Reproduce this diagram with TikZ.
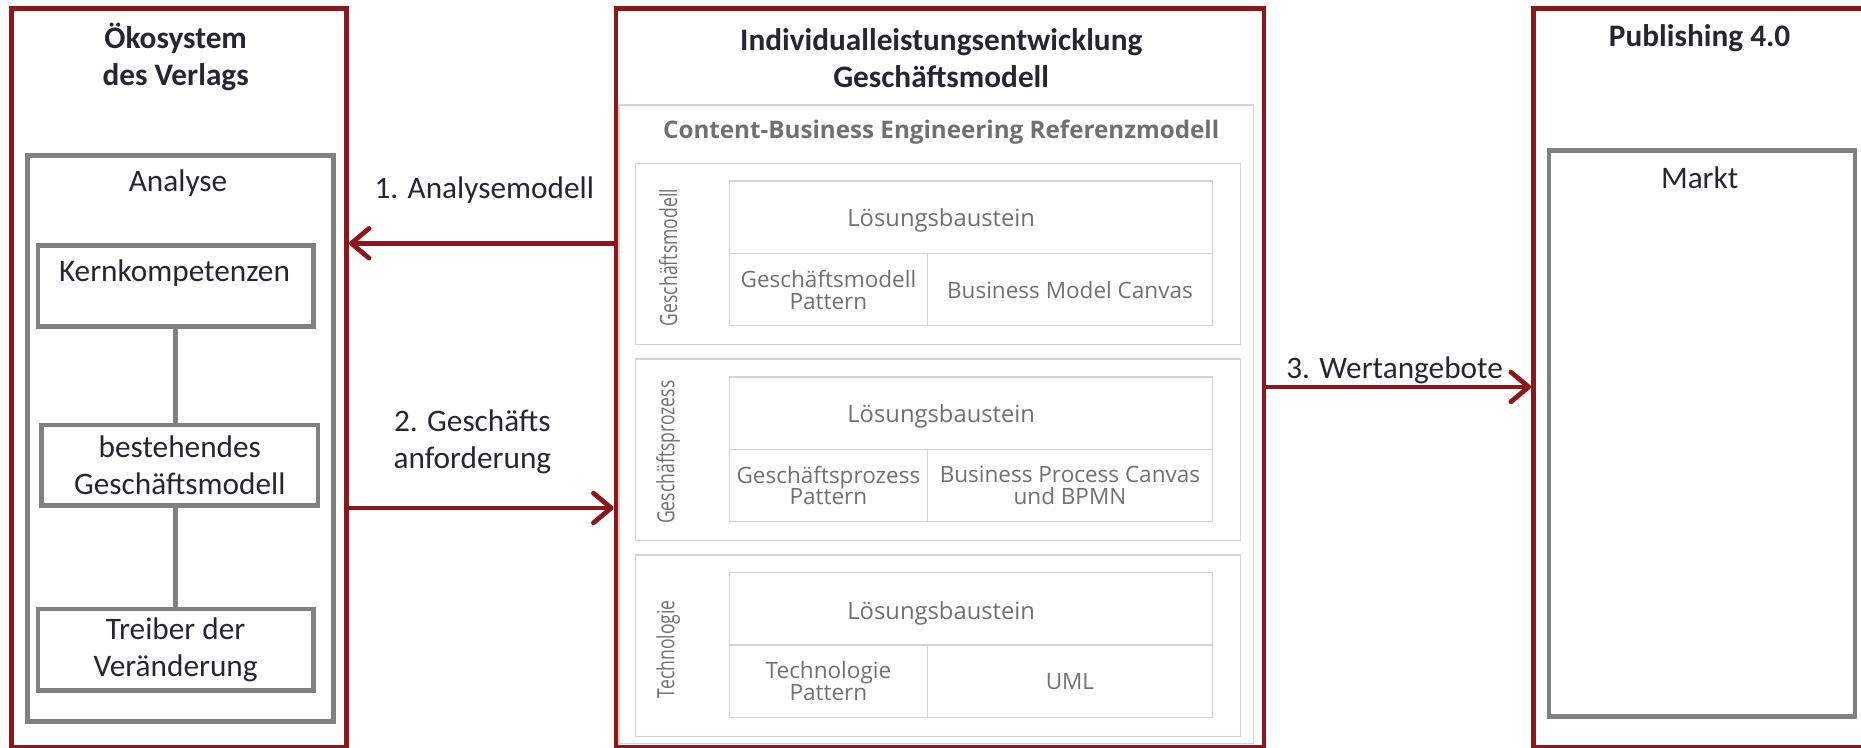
\documentclass[tikz,border=0pt]{standalone}
\usepackage{fontspec}
\setmainfont{Carlito}
\newfontfamily\osfont{Open Sans}
\newfontfamily\oscond[FakeStretch=0.74]{Open Sans}
\usetikzlibrary{arrows.meta}

\definecolor{dunkelrot}{RGB}{139,22,28}
\definecolor{schrift}{RGB}{38,38,48}
\definecolor{grautext}{RGB}{112,112,112}
\definecolor{linie}{RGB}{212,212,212}

\tikzset{
  rahmen/.style={draw=dunkelrot, line width=0.08cm, anchor=north west, minimum height=12.46cm},
  graubox/.style={draw=gray, line width=0.08cm, anchor=north west, align=center,
    text=schrift, font=\fontsize{15}{17.6}\selectfont},
  grauline/.style={draw=gray, line width=0.08cm},
  abschnitt/.style={draw=linie, line width=0.6pt, anchor=north west, minimum width=10.2cm, minimum height=3.06cm},
  zelle/.style={draw=linie, line width=0.6pt, anchor=north west, minimum height=1.22cm, inner sep=0pt,
    align=center, text=grautext, font=\osfont\fontsize{10.8}{10.5}\selectfont},
  baustein/.style={zelle, minimum width=8.14cm},
  bstext/.style={text=grautext, font=\osfont\fontsize{11.4}{12}\selectfont},
  seite/.style={rotate=90, text=grautext, font=\oscond\fontsize{11.4}{12}\selectfont},
  titel/.style={text=schrift, align=center, font=\bfseries\fontsize{15}{17.6}\selectfont},
  etext/.style={text=schrift, align=center, font=\fontsize{15}{17.6}\selectfont},
  pfeil/.style={dunkelrot, line width=0.08cm, -{Straight Barb[length=3mm,width=5mm,round]}},
}

\begin{document}
\begin{tikzpicture}[x=0.02cm, y=-0.02cm]

  \useasboundingbox (0,0) rectangle (1568,630);

  % Oekosystem
  \node[rahmen, minimum width=5.64cm] (oeko) at (8,5) {};
  \node[titel] (oekotitel) at (148,48) {Ökosystem\\des Verlags};
  \node[graubox, minimum width=5.16cm, minimum height=9.54cm] (analyse) at (21,129) {};
  \node[etext] (analysetitel) at (150,154) {Analyse};
  \node[graubox, minimum width=4.64cm, minimum height=1.36cm] (kern) at (30,205) {};
  \node[etext] (kerntext) at (147,230) {Kernkompetenzen};
  \node[graubox, minimum width=4.66cm, minimum height=1.36cm] (bestehend) at (33,356) {bestehendes\\Geschäftsmodell};
  \node[graubox, minimum width=4.64cm, minimum height=1.38cm] (treiber) at (30,511) {Treiber der\\Veränderung};
  \draw[grauline] (kern.south) -- (kern.south |- bestehend.north);
  \draw[grauline] (bestehend.south -| kern.south) -- (treiber.north -| kern.south);

  % Individualleistungsentwicklung
  \node[rahmen, minimum width=10.92cm] (indiv) at (517,5) {};
  \node[titel] (indivtitel) at (793,49) {Individualleistungsentwicklung\\Geschäftsmodell};
  \node[draw=linie, line width=0.6pt, anchor=north west, minimum width=10.7cm, minimum height=10.76cm] (panel) at (521,88) {};
  \node[text=grautext, font=\osfont\bfseries\fontsize{11.6}{12}\selectfont] (cbe) at (793,111) {Content-Business Engineering Referenzmodell};

  \node[abschnitt] (gm) at (535,137) {};
  \node[seite] (gmtext) at (563,217) {Geschäftsmodell};
  \node[baustein] (lb1) at (614,152) {};
  \node[bstext] (lb1text) at (793,186) {Lösungsbaustein};
  \node[zelle, minimum width=3.34cm] (pat1) at (614,213) {Geschäftsmodell\\Pattern};
  \node[zelle, minimum width=4.80cm] (can1) at (781,213) {Business Model Canvas};

  \node[abschnitt] (gp) at (535,302) {};
  \node[seite] (gptext) at (563,381) {Geschäftsprozess};
  \node[baustein] (lb2) at (614,317) {};
  \node[bstext] (lb2text) at (793,351) {Lösungsbaustein};
  \node[zelle, minimum width=3.34cm] (pat2) at (614,378) {Geschäftsprozess\\Pattern};
  \node[zelle, minimum width=4.80cm] (can2) at (781,378) {Business Process Canvas\\und BPMN};

  \node[abschnitt] (tech) at (535,467) {};
  \node[seite] (techtext) at (563,547) {Technologie};
  \node[baustein] (lb3) at (614,482) {};
  \node[bstext] (lb3text) at (793,517) {Lösungsbaustein};
  \node[zelle, minimum width=3.34cm] (pat3) at (614,543) {Technologie\\Pattern};
  \node[zelle, minimum width=4.80cm] (can3) at (781,543) {UML};

  % Publishing 4.0
  \node[rahmen, minimum width=6cm] (publ) at (1290,5) {};
  \node[titel] (publtitel) at (1432,32) {Publishing 4.0};
  \node[graubox, minimum width=5.16cm, minimum height=9.54cm] (markt) at (1303,125) {};
  \node[etext] (markttitel) at (1432,150) {Markt};

  % Pfeile
  \coordinate (w3) at (0,326);
  \draw[pfeil] (indiv.west |- kern.north) -- (oeko.east |- kern.north);
  \node[etext] (p1) at (408,160) {1. Analysemodell};
  \draw[pfeil] (oeko.east |- bestehend.south) -- (indiv.west |- bestehend.south);
  \node[etext] (p2) at (398,372) {2. Geschäfts\\anforderung};
  \draw[pfeil] (indiv.east |- w3) -- (publ.west |- w3);
  \node[etext] (p3) at (1175,312) {3. Wertangebote};

\end{tikzpicture}
\end{document}
